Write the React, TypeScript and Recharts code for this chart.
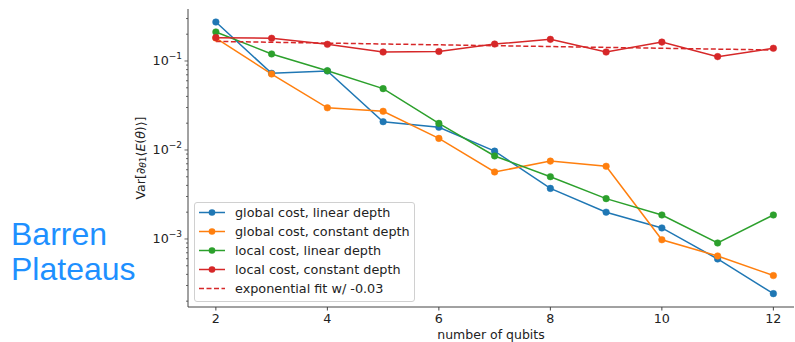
import React from "react";
import { LineChart, Line, XAxis, YAxis, Legend } from "recharts";

// number of qubits on the x axis
const QUBITS = [2, 3, 4, 5, 6, 7, 8, 9, 10, 11, 12];

// Var[dE/dtheta1] per series
const GLOBAL_LINEAR = [0.274, 0.0727, 0.0772, 0.0208, 0.018, 0.0097, 0.0037, 0.002, 0.00133, 0.000596, 0.000243];
const GLOBAL_CONSTANT = [0.181, 0.0714, 0.0298, 0.0272, 0.0135, 0.00566, 0.0075, 0.00656, 0.00098, 0.000644, 0.000388];
const LOCAL_LINEAR = [0.212, 0.12, 0.0778, 0.0489, 0.0199, 0.00857, 0.00501, 0.00284, 0.00186, 0.000901, 0.00186];
const LOCAL_CONSTANT = [0.183, 0.18, 0.154, 0.126, 0.128, 0.155, 0.175, 0.126, 0.163, 0.112, 0.139];

// exponential fit: straight on a log axis, so its two ends are enough
const FIT_QUBITS = [2, 12];
const FIT_VALUES = [0.166, 0.133];

// legend labels, in the order the legend lists them
const LABELS = [
  "global cost, linear depth",
  "global cost, constant depth",
  "local cost, linear depth",
  "local cost, constant depth",
  "exponential fit w/ -0.03",
];

const X_TICKS = [2, 4, 6, 8, 10, 12];
const Y_MAJOR = [0.001, 0.01, 0.1];
const Y_MINOR = [
  0.0002, 0.0003, 0.0004, 0.0005, 0.0006, 0.0007, 0.0008, 0.0009,
  0.002, 0.003, 0.004, 0.005, 0.006, 0.007, 0.008, 0.009,
  0.02, 0.03, 0.04, 0.05, 0.06, 0.07, 0.08, 0.09,
  0.2, 0.3,
];

const C = {
  blue: "#1f77b4",
  orange: "#ff7f0e",
  green: "#2ca02c",
  red: "#d62728",
  ink: "#222",
  spine: "#444",
};

const FONT = "'DejaVu Sans', sans-serif";

const rows = QUBITS.map((q, i) => ({
  q,
  gl: GLOBAL_LINEAR[i],
  gc: GLOBAL_CONSTANT[i],
  ll: LOCAL_LINEAR[i],
  lc: LOCAL_CONSTANT[i],
}));

const fitRows = FIT_QUBITS.map((q, i) => ({ q, fit: FIT_VALUES[i] }));

function YTick(props: any) {
  const { x, y, payload } = props;
  const v = payload.value;
  const major = Y_MAJOR.includes(v);
  const exp = Math.round(Math.log10(v));
  return (
    <g>
      <line x1={x - (major ? 3.5 : 2)} x2={x} y1={y} y2={y} stroke={C.spine} strokeWidth={0.8} />
      {major && (
        <text x={x - 6} y={y} dy={4.5} textAnchor="end" fontSize={12.7} fill={C.ink} fontFamily={FONT}>
          <tspan>10</tspan>
          <tspan dy={-6} fontSize={9}>{"\u2212" + Math.abs(exp)}</tspan>
        </text>
      )}
    </g>
  );
}

function YLabel(props: any) {
  const { viewBox } = props;
  const cy = viewBox.y + viewBox.height / 2;
  const cx = 140;
  return (
    <text
      x={cx}
      y={cy}
      transform={`rotate(-90 ${cx} ${cy})`}
      textAnchor="middle"
      dominantBaseline="central"
      fontSize={12.5}
      fill={C.ink}
      fontFamily={FONT}
    >
      <tspan>Var[∂</tspan>
      <tspan fontSize={9} dy={3} fontStyle="italic">θ</tspan>
      <tspan fontSize={9}>1</tspan>
      <tspan dy={-3}>⟨</tspan>
      <tspan fontStyle="italic">E</tspan>
      <tspan>(</tspan>
      <tspan fontStyle="italic">θ</tspan>
      <tspan>)⟩]</tspan>
    </text>
  );
}

function LegendBox(props: any) {
  const items = [...(props.payload || [])].sort(
    (a: any, b: any) => LABELS.indexOf(a.value) - LABELS.indexOf(b.value)
  );
  return (
    <div
      style={{
        width: 221,
        height: 100,
        boxSizing: "border-box",
        border: "1px solid #d0d0d0",
        borderRadius: 3,
        background: "rgba(255,255,255,0.85)",
      }}
    >
      <svg width={219} height={98} style={{ display: "block" }}>
        {items.map((it: any, i: number) => {
          const y = 9.5 + i * 19;
          const dashed = !!(it.payload && it.payload.strokeDasharray);
          return (
            <g key={i}>
              <line x1={4} x2={30} y1={y} y2={y} stroke={it.color} strokeWidth={1.5} strokeDasharray={dashed ? "5 2.5" : undefined} />
              {!dashed && <circle cx={17} cy={y} r={3.3} fill={it.color} />}
              <text x={40} y={y} dy={4.6} fontSize={12.8} fill={C.ink} fontFamily={FONT}>
                {it.value}
              </text>
            </g>
          );
        })}
      </svg>
    </div>
  );
}

export default function App() {
  const dot = (c: string) => ({ r: 3.3, fill: c, stroke: c, strokeWidth: 0.5 });
  return (
    <div style={{ position: "absolute", left: 0, top: 0, width: 795, height: 342, background: "#fff", fontFamily: FONT }}>
      <div
        style={{
          position: "absolute",
          left: 11,
          top: 217,
          fontFamily: "'Liberation Sans', Arial, sans-serif",
          fontSize: 32,
          lineHeight: "35px",
          color: "#1e90ff",
        }}
      >
        Barren
        <br />
        Plateaus
      </div>
      <LineChart
        width={795}
        height={342}
        data={rows}
        margin={{ top: 9, right: 1, bottom: 0, left: 0 }}
        style={{ position: "absolute", left: 0, top: 0 }}
      >
        <XAxis
          dataKey="q"
          type="number"
          domain={[1.5, 12.37]}
          ticks={X_TICKS}
          allowDataOverflow
          height={35}
          stroke={C.spine}
          tickSize={3.5}
          tickMargin={3}
          tick={{ fontSize: 12.7, fill: C.ink, fontFamily: FONT }}
          label={{
            value: "number of qubits",
            position: "insideBottom",
            offset: 3,
            fontSize: 12.5,
            fill: C.ink,
            fontFamily: FONT,
          }}
        />
        <XAxis
          xAxisId="top"
          orientation="top"
          dataKey="q"
          type="number"
          domain={[1.5, 12.37]}
          height={0}
          tick={false}
          tickLine={false}
          stroke={C.spine}
        />
        <YAxis
          scale="log"
          type="number"
          domain={[0.000172, 0.384]}
          allowDataOverflow
          ticks={[...Y_MAJOR, ...Y_MINOR]}
          interval={0}
          width={188}
          stroke={C.spine}
          tickLine={false}
          tickSize={0}
          tickMargin={0}
          tick={<YTick />}
          label={{ content: <YLabel /> }}
        />
        <Legend
          layout="vertical"
          verticalAlign="middle"
          align="center"
          content={<LegendBox />}
          wrapperStyle={{ position: "absolute", left: 194, top: 202, width: 221, height: 100 }}
        />
        <Line dataKey="gl" name={LABELS[0]} stroke={C.blue} strokeWidth={1.5} dot={dot(C.blue)} isAnimationActive={false} />
        <Line dataKey="gc" name={LABELS[1]} stroke={C.orange} strokeWidth={1.5} dot={dot(C.orange)} isAnimationActive={false} />
        <Line dataKey="ll" name={LABELS[2]} stroke={C.green} strokeWidth={1.5} dot={dot(C.green)} isAnimationActive={false} />
        <Line dataKey="lc" name={LABELS[3]} stroke={C.red} strokeWidth={1.5} dot={dot(C.red)} isAnimationActive={false} />
        <Line
          data={fitRows}
          dataKey="fit"
          name={LABELS[4]}
          stroke={C.red}
          strokeWidth={1.5}
          strokeDasharray="5 2.5"
          dot={false}
          isAnimationActive={false}
        />
      </LineChart>
    </div>
  );
}
